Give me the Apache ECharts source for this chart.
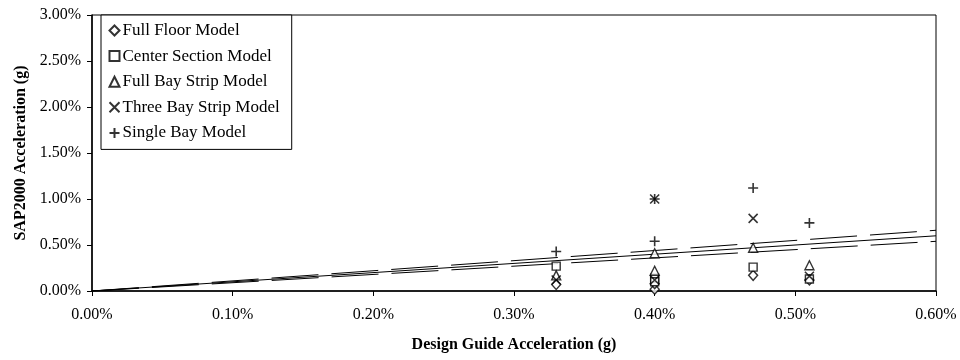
<!DOCTYPE html>
<html>
<head>
<meta charset="utf-8">
<script src="https://cdn.jsdelivr.net/npm/echarts@6/dist/echarts.min.js"></script>
<style>
html,body{margin:0;padding:0;background:#fff;}
#chart{width:960px;height:360px;}
</style>
</head>
<body>
<div id="chart"></div>
<script>
// Data (percent units)
const seriesNames = ['Full Floor Model','Center Section Model','Full Bay Strip Model','Three Bay Strip Model','Single Bay Model'];
const fullFloor = [[0.33,0.07],[0.40,0.02],[0.40,0.08],[0.47,0.17],[0.51,0.12]];
const centerSection = [[0.33,0.27],[0.40,0.14],[0.40,0.10],[0.47,0.26],[0.51,0.13]];
const fullBayStrip = [[0.33,0.17],[0.40,0.41],[0.40,0.22],[0.47,0.47],[0.51,0.28]];
const threeBayStrip = [[0.33,0.12],[0.40,1.00],[0.40,0.12],[0.47,0.79],[0.51,0.16]];
const singleBay = [[0.33,0.43],[0.40,1.00],[0.40,0.54],[0.47,1.12],[0.51,0.74]];
const lineX = [0, 0.6];
const upperLine = [0, 0.66];
const middleLine = [0, 0.60];
const lowerLine = [0, 0.54];
const xTicks = [0, 0.6, 0.1];
const yTicks = [0, 3, 0.5];

const FONT = "'Liberation Serif','Times New Roman',serif";
const crossPath = 'path://M0,0L10,10M10,0L0,10';
const plusPath = 'path://M5,0L5,10M0,5L10,5';

function pts(arr){ return arr.map(p => [p[0], p[1]]); }
function line(ys){ return lineX.map((x,i) => [x, ys[i]]); }

const hollow = {color:'#fff', borderColor:'#000', borderWidth:1.4};
const stroke = {color:'none', borderColor:'#000', borderWidth:1.6};

const chart = echarts.init(document.getElementById('chart'), null, {renderer:'canvas'});
chart.setOption({
  animation:false,
  backgroundColor:'#fff',
  textStyle:{fontFamily:FONT, color:'#000'},
  grid:{left:92, right:24, top:15, bottom:69, show:true, borderColor:'#000', borderWidth:1},
  legend:{
    data:seriesNames,
    orient:'vertical',
    left:101, top:15,
    itemWidth:10, itemHeight:10, itemGap:8.6,
    backgroundColor:'#fff', borderColor:'#000', borderWidth:1,
    padding:[7,12,8,6],
    textStyle:{fontFamily:FONT, fontSize:17, color:'#000', padding:[0,0,0,-2]}
  },
  xAxis:{
    type:'value', min:xTicks[0], max:xTicks[1], interval:xTicks[2],
    name:'Design Guide Acceleration (g)', nameLocation:'middle', nameGap:46,
    nameTextStyle:{fontFamily:FONT, fontSize:16, fontWeight:'bold', color:'#000'},
    axisLine:{show:true, onZero:false, lineStyle:{color:'#000', width:1.5}},
    axisTick:{show:true, inside:false, length:5, lineStyle:{color:'#000'}},
    axisLabel:{fontFamily:FONT, fontSize:16, color:'#000', margin:16, formatter:v=>v.toFixed(2)+'%'},
    splitLine:{show:false}
  },
  yAxis:{
    type:'value', min:yTicks[0], max:yTicks[1], interval:yTicks[2],
    name:'SAP2000 Acceleration (g)', nameLocation:'middle', nameGap:62,
    nameTextStyle:{fontFamily:FONT, fontSize:16, fontWeight:'bold', color:'#000'},
    axisLine:{show:true, onZero:false, lineStyle:{color:'#000', width:1.5}},
    axisTick:{show:true, inside:false, length:5, lineStyle:{color:'#000'}},
    axisLabel:{fontFamily:FONT, fontSize:16, color:'#000', margin:11, formatter:v=>v.toFixed(2)+'%'},
    splitLine:{show:false}
  },
  series:[
    {name:'upper', type:'line', data:line(upperLine), symbol:'none', silent:true,
      lineStyle:{color:'#000', width:1, type:[47,13]}, z:1},
    {name:'middle', type:'line', data:line(middleLine), symbol:'none', silent:true,
      lineStyle:{color:'#000', width:1, type:'solid'}, z:1},
    {name:'lower', type:'line', data:line(lowerLine), symbol:'none', silent:true,
      lineStyle:{color:'#000', width:1, type:[47,13]}, z:1},
    {name:seriesNames[0], type:'scatter', data:pts(fullFloor), symbol:'diamond', symbolSize:[9,10], itemStyle:hollow, z:3},
    {name:seriesNames[1], type:'scatter', data:pts(centerSection), symbol:'rect', symbolSize:8, itemStyle:hollow, z:3},
    {name:seriesNames[2], type:'scatter', data:pts(fullBayStrip), symbol:'triangle', symbolSize:[9,9], itemStyle:hollow, z:3},
    {name:seriesNames[3], type:'scatter', data:pts(threeBayStrip), symbol:crossPath, symbolSize:9, itemStyle:stroke, z:3},
    {name:seriesNames[4], type:'scatter', data:pts(singleBay), symbol:plusPath, symbolSize:10, itemStyle:stroke, z:3}
  ]
});
</script>
</body>
</html>
